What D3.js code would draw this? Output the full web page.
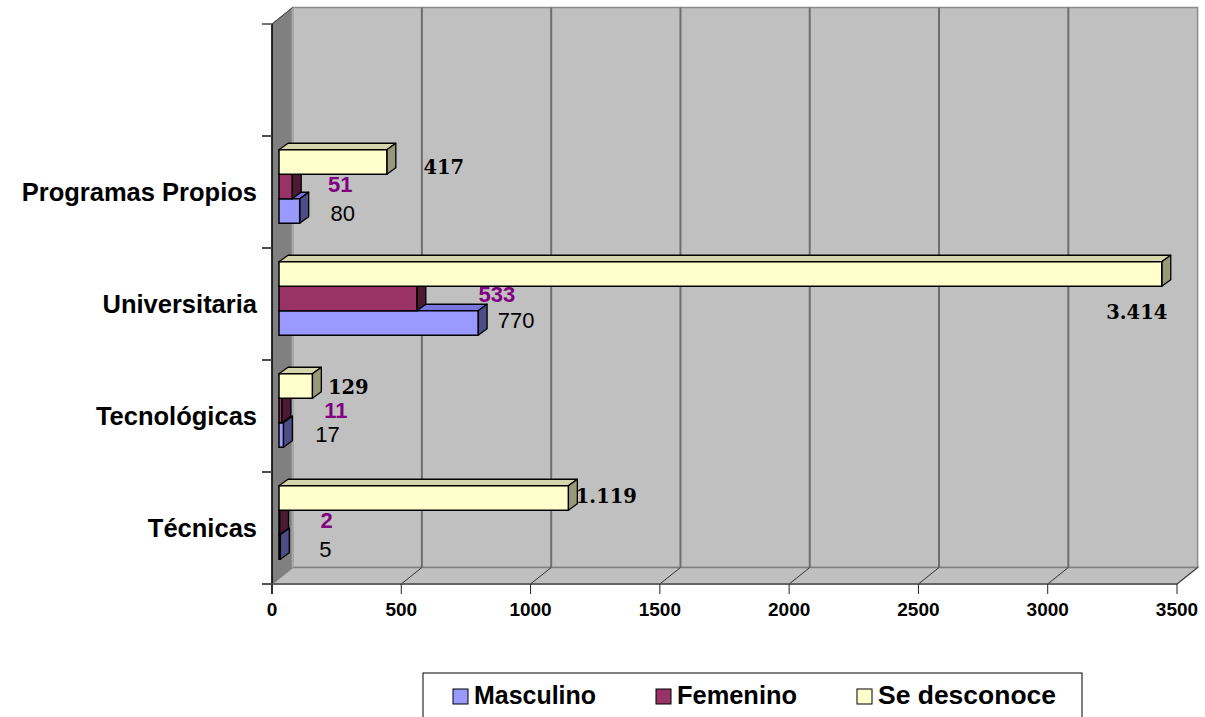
<!DOCTYPE html>
<html><head><meta charset="utf-8">
<script src="https://cdn.jsdelivr.net/npm/d3@7"></script>
<style>html,body{margin:0;padding:0;background:#fff;}svg{display:block;}</style>
</head><body>
<svg id="c" width="1205" height="717"></svg>
<script>
// ---- data ----
const categories = ["Técnicas", "Tecnológicas", "Universitaria", "Programas Propios"];
const seriesNames = ["Masculino", "Femenino", "Se desconoce"];
const masculino = [5, 17, 770, 80];
const femenino = [2, 11, 533, 51];
const desconoce = [1119, 129, 3414, 417];
const labelTexts = {
  "Masculino": ["5", "17", "770", "80"],
  "Femenino": ["2", "11", "533", "51"],
  "Se desconoce": ["1.119", "129", "3.414", "417"]
};
const xTicks = [0, 500, 1000, 1500, 2000, 2500, 3000, 3500];

// label nudges relative to bar end (label centre)
const nudgeX = {"Masculino": [45, 44, 38, 43], "Femenino": [47, 54, 80, 48], "Se desconoce": [38, 36, -25, 57]};
const nudgeY = {"Masculino": [4, 1, -1, 4], "Femenino": [0, 2, -2, 0], "Se desconoce": [-1, 2, 39, 6]};

const seriesValues = [masculino, femenino, desconoce];
const frontCol = ["#9999ff", "#993366", "#ffffcc"];
const topCol = ["#7777dd", "#7a2952", "#d6d6ae"];
const sideCol = ["#4d4d88", "#4d1a33", "#999979"];
const labelStyle = [
  {fill: "#000", weight: "normal", family: "Liberation Sans, Arial, sans-serif", size: 22},
  {fill: "#800080", weight: "bold", family: "Liberation Sans, Arial, sans-serif", size: 22},
  {fill: "#000", weight: "bold", family: "DejaVu Serif, serif", size: 19.5}
];

const svg = d3.select("#c");
const L = 272, R = 1177, T = 24, B = 584;
const DX = 20.6, DY = -16.5; // wall depth
const x = d3.scaleLinear().domain([0, 3500]).range([L, R]);
const y = d3.scaleBand().domain(["", ...categories.slice().reverse()]).range([T, B]);

// back wall
svg.append("path").attr("d", `M${L+DX},${T+DY}H${R+DX}V${B+DY}H${L+DX}Z`)
  .attr("fill", "#c0c0c0").attr("stroke", "#8c8c8c").attr("stroke-width", 1.5);
// left wall
svg.append("path").attr("d", `M${L},${T}L${L+DX},${T+DY}V${B+DY}L${L},${B}Z`)
  .attr("fill", "#808080").attr("stroke", "#6a6a6a").attr("stroke-width", 1);
// floor
svg.append("path").attr("d", `M${L},${B}L${L+DX},${B+DY}H${R+DX}L${R},${B}Z`)
  .attr("fill", "#c0c0c0").attr("stroke", "#808080").attr("stroke-width", 1.5);
svg.append("line").attr("x1", L+DX).attr("x2", L+DX).attr("y1", T+DY).attr("y2", B+DY)
  .attr("stroke", "#a8a8a8").attr("stroke-width", 2);

// gridlines
xTicks.slice(1, -1).forEach(t => {
  svg.append("line").attr("x1", x(t)+DX).attr("x2", x(t)+DX).attr("y1", T+DY).attr("y2", B+DY)
    .attr("stroke", "#6e6e6e").attr("stroke-width", 2);
});
xTicks.slice(1).forEach(t => {
  svg.append("line").attr("x1", x(t)).attr("y1", B).attr("x2", x(t)+DX).attr("y2", B+DY)
    .attr("stroke", "#303030").attr("stroke-width", 1);
});
// axes
svg.append("line").attr("x1", L).attr("x2", L).attr("y1", T).attr("y2", B+10).attr("stroke", "#000").attr("stroke-width", 1.5);
svg.append("line").attr("x1", L).attr("y1", T).attr("x2", L+DX).attr("y2", T+DY).attr("stroke", "#404040").attr("stroke-width", 1);
svg.append("line").attr("x1", L-10).attr("x2", R).attr("y1", B).attr("y2", B).attr("stroke", "#555").attr("stroke-width", 1.5);
xTicks.forEach(t => {
  svg.append("line").attr("x1", x(t)).attr("x2", x(t)).attr("y1", B).attr("y2", B+10).attr("stroke", "#222").attr("stroke-width", 1);
  svg.append("text").attr("x", x(t)).attr("y", B+27).attr("text-anchor", "middle").attr("dominant-baseline", "middle")
    .attr("font-family", "Liberation Sans, Arial, sans-serif").attr("font-weight", "bold").attr("font-size", 19)
    .attr("fill", "#000").text(t);
});
y.domain().forEach(c => {
  [y(c), y(c) + y.bandwidth()].forEach(v => {
    svg.append("line").attr("x1", L-10).attr("x2", L).attr("y1", v).attr("y2", v).attr("stroke", "#444").attr("stroke-width", 1.5);
  });
});
// category labels
categories.forEach(c => {
  svg.append("text").attr("x", 257).attr("y", y(c) + y.bandwidth()/2 + 2).attr("text-anchor", "end")
    .attr("dominant-baseline", "middle").attr("font-family", "Liberation Sans, Arial, sans-serif")
    .attr("font-weight", "bold").attr("font-size", 25.5).attr("fill", "#000").text(c);
});

// bars
const fx = 7, fy = -5.5; // bar front offset inside depth
const bdx = 9, bdy = -6.5; // bar depth
const xb = v => x(v) + fx;
const groupH = y.bandwidth() * 0.656;
const inner = d3.scaleBand().domain(seriesNames.slice().reverse()).range([0, groupH]);
const g = svg.append("g");
categories.forEach((c, ci) => {
  const gy0 = y(c) + (y.bandwidth() - groupH) / 2 + fy;
  seriesNames.forEach((s, si) => {
    const v = seriesValues[si][ci];
    const y0 = gy0 + inner(s), h = inner.bandwidth();
    const x0 = xb(0), x1 = xb(v);
    g.append("path").attr("d", `M${x0},${y0}L${x0+bdx},${y0+bdy}H${x1+bdx}L${x1},${y0}Z`)
      .attr("fill", topCol[si]).attr("stroke", "#000").attr("stroke-width", 1.3).attr("stroke-linejoin", "round");
    g.append("path").attr("d", `M${x1},${y0}L${x1+bdx},${y0+bdy}V${y0+h+bdy}L${x1},${y0+h}Z`)
      .attr("fill", sideCol[si]).attr("stroke", "#000").attr("stroke-width", 1.3).attr("stroke-linejoin", "round");
    g.append("rect").attr("x", x0).attr("y", y0).attr("width", x1 - x0).attr("height", h)
      .attr("fill", frontCol[si]).attr("stroke", "#000").attr("stroke-width", 1.5);
  });
});
// labels
categories.forEach((c, ci) => {
  const gy0 = y(c) + (y.bandwidth() - groupH) / 2 + fy;
  seriesNames.forEach((s, si) => {
    const v = seriesValues[si][ci];
    const st = labelStyle[si];
    svg.append("text").attr("x", xb(v) + nudgeX[s][ci]).attr("y", gy0 + inner(s) + inner.bandwidth()/2 + nudgeY[s][ci])
      .attr("text-anchor", "middle").attr("dominant-baseline", "middle")
      .attr("font-family", st.family).attr("font-weight", st.weight).attr("font-size", st.size)
      .attr("fill", st.fill).text(labelTexts[s][ci]);
  });
});

// legend
const lg = svg.append("g");
lg.append("rect").attr("x", 423).attr("y", 673).attr("width", 659).attr("height", 60)
  .attr("fill", "#fff").attr("stroke", "#000").attr("stroke-width", 1);
const legX = [453, 656, 857];
const legW = [122, 120, 178];
seriesNames.forEach((s, i) => {
  lg.append("rect").attr("x", legX[i]).attr("y", 689).attr("width", 15).attr("height", 15)
    .attr("fill", frontCol[i]).attr("stroke", "#000").attr("stroke-width", 1);
  lg.append("text").attr("x", legX[i] + 21).attr("y", 704)
    .attr("font-family", "Liberation Sans, Arial, sans-serif").attr("font-weight", "bold").attr("font-size", 26)
    .attr("textLength", legW[i]).attr("lengthAdjust", "spacingAndGlyphs")
    .attr("fill", "#000").text(s);
});
</script>
</body></html>
